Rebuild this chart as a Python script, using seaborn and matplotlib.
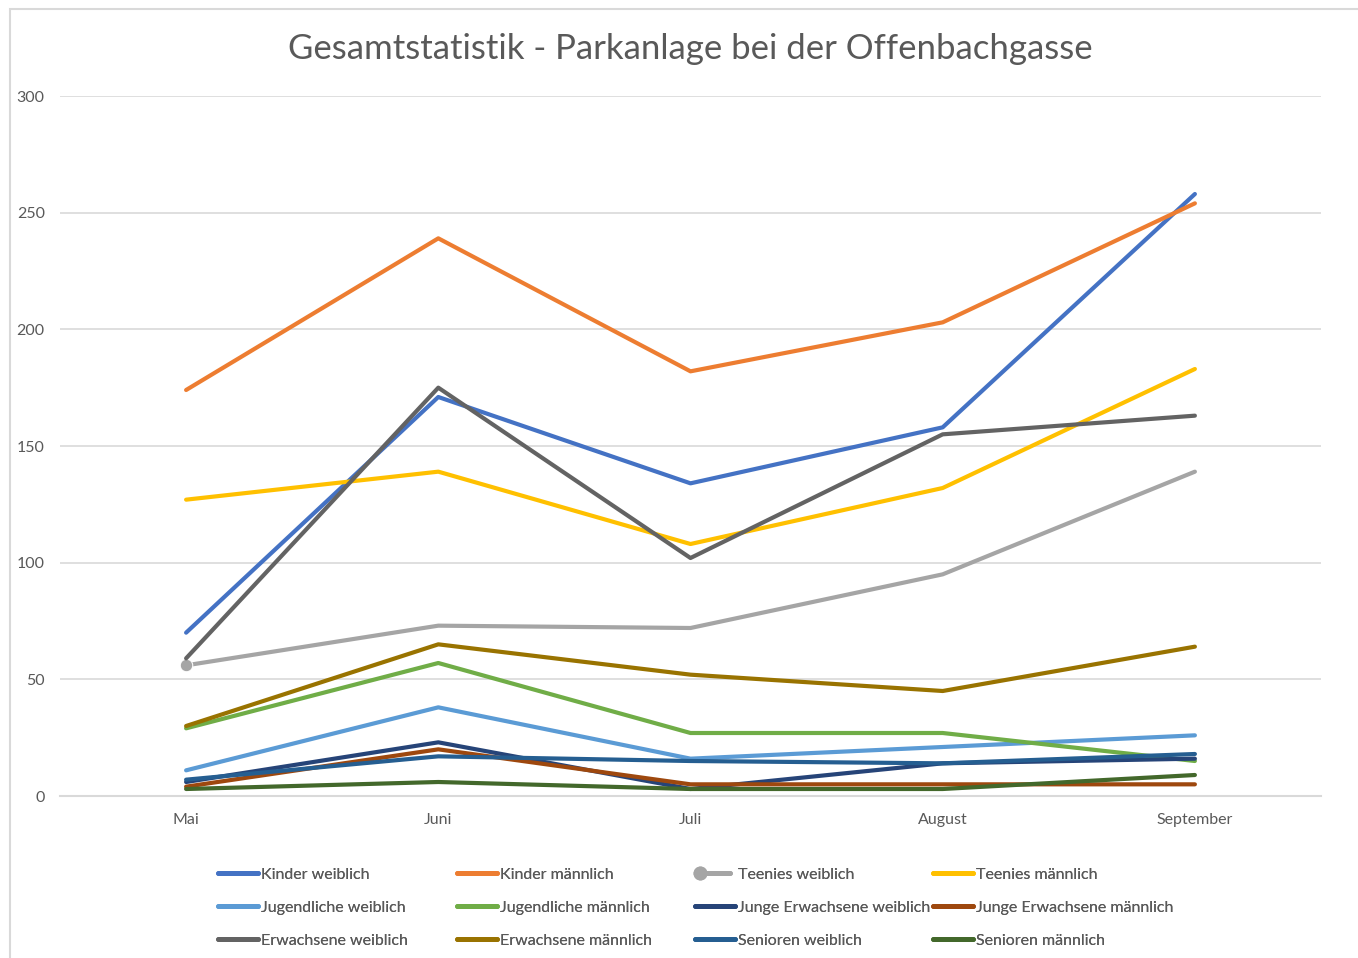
#!/usr/bin/env python3

import numpy as np
import pandas as pd
import matplotlib
matplotlib.use('Agg')
from matplotlib import pyplot as plt
from matplotlib.lines import Line2D
from matplotlib.legend_handler import HandlerLine2D
from matplotlib.patches import Rectangle
import seaborn as sns


months = ['Mai', 'Juni', 'Juli', 'August', 'September']

groups = ['Kinder weiblich', 'Kinder männlich', 'Teenies weiblich', 'Teenies männlich',
          'Jugendliche weiblich', 'Jugendliche männlich', 'Junge Erwachsene weiblich',
          'Junge Erwachsene männlich', 'Erwachsene weiblich', 'Erwachsene männlich',
          'Senioren weiblich', 'Senioren männlich']

kinder_w = [70, 171, 134, 158, 258]
kinder_m = [174, 239, 182, 203, 254]
teenies_w = [56, 73, 72, 95, 139]
teenies_m = [127, 139, 108, 132, 183]
jugend_w = [11, 38, 16, 21, 26]
jugend_m = [29, 57, 27, 27, 15]
junge_erw_w = [6, 23, 3, 14, 16]
junge_erw_m = [4, 20, 5, 5, 5]
erw_w = [59, 175, 102, 155, 163]
erw_m = [30, 65, 52, 45, 64]
senioren_w = [7, 17, 15, 14, 18]
senioren_m = [3, 6, 3, 3, 9]

colors = ['#4472C4', '#ED7D31', '#A5A5A5', '#FFC000', '#5B9BD5', '#70AD47',
          '#264478', '#9E480E', '#636363', '#997300', '#255E91', '#43682B']

series = [kinder_w, kinder_m, teenies_w, teenies_m, jugend_w, jugend_m,
          junge_erw_w, junge_erw_m, erw_w, erw_m, senioren_w, senioren_m]

df = pd.DataFrame({
    'Monat': months * len(groups),
    'Anzahl': [v for s in series for v in s],
    'Gruppe': [g for g in groups for _ in months],
})


class FirstMarkerHandler(HandlerLine2D):
    # legend line with the marker only at its left end
    def create_artists(self, *args, **kwargs):
        artists = super().create_artists(*args, **kwargs)
        for a in artists:
            a.set_markevery([0])
        return artists


W, H = 1358, 958
sns.set_theme(style="white")
plt.rcParams['font.family'] = ['Lato', 'DejaVu Sans']
grey_text = '#595959'
grid_col = '#D9D9D9'

fig = plt.figure(figsize=(W / 100, H / 100), dpi=100)
ax = fig.add_axes([60 / W, 1 - 796 / H, (1321 - 60) / W, 700 / H])

sns.lineplot(data=df, x='Monat', y='Anzahl', hue='Gruppe', hue_order=groups,
             palette=dict(zip(groups, colors)), linewidth=3, sort=False,
             legend=False, ax=ax)

# marker on first point of Teenies weiblich
teen_line = ax.lines[2]
teen_line.set_marker('o')
teen_line.set_markevery([0])
teen_line.set_markersize(9)

ax.set_xlim(-0.5, len(months) - 0.5)
ax.set_ylim(0, 300)
ax.set_yticks(np.arange(0, 301, 50))
ax.grid(axis='y', color=grid_col, linewidth=1.2)
ax.set_axisbelow(True)
for side in ['left', 'right', 'top']:
    ax.spines[side].set_visible(False)
ax.spines['bottom'].set_color(grid_col)
ax.spines['bottom'].set_linewidth(1.5)
ax.tick_params(axis='both', length=0, labelsize=11.5, labelcolor=grey_text)
ax.tick_params(axis='y', pad=11)
ax.tick_params(axis='x', pad=12)
ax.set_xlabel('')
ax.set_ylabel('')

fig.text(690 / W, 1 - 49 / H, 'Gesamtstatistik - Parkanlage bei der Offenbachgasse',
         ha='center', va='center', fontsize=25, color=grey_text)

# legend: four columns, each placed separately
col_x = [218, 457, 695, 933]
for c in range(4):
    handles = []
    labels = []
    hmap = {}
    for r in range(3):
        i = r * 4 + c
        h = Line2D([], [], color=colors[i], linewidth=3.5, solid_capstyle='round')
        if i == 2:
            h.set_marker('o')
            h.set_markersize(9)
            hmap[h] = FirstMarkerHandler(numpoints=2)
        handles.append(h)
        labels.append(groups[i])
    leg = fig.legend(handles, labels, loc='center left',
                     bbox_to_anchor=(col_x[c] / W, 1 - 907.5 / H),
                     frameon=False, borderpad=0, borderaxespad=0,
                     handlelength=2.5, handletextpad=0.2, labelspacing=1.18,
                     fontsize=11.5, labelcolor=grey_text, handler_map=hmap)
    fig.add_artist(leg)

# chart border
fig.patches.append(Rectangle((10 / W, -0.1), 1.2, (H - 9) / H + 0.1,
                             transform=fig.transFigure, fill=False,
                             edgecolor=grid_col, linewidth=1.5))

plt.savefig('out.png', dpi=100)
